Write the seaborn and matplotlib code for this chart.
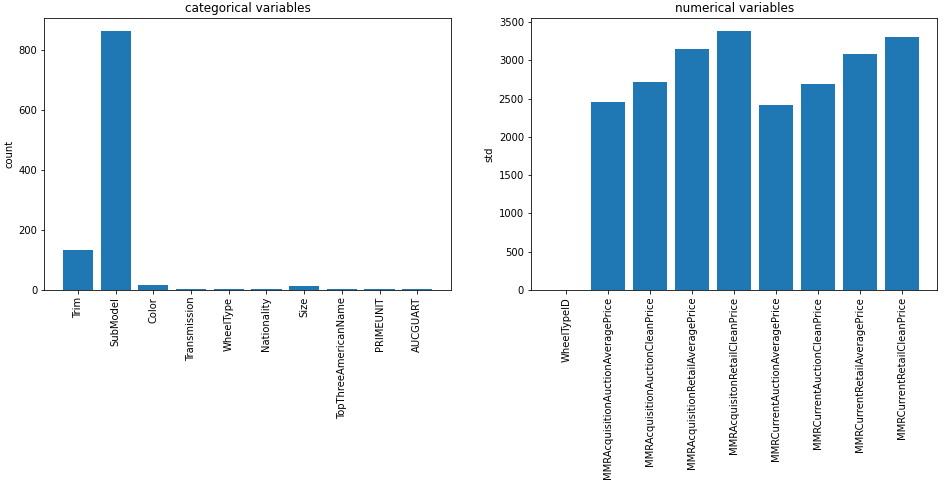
import pandas as pd
import matplotlib
matplotlib.use('Agg')
import matplotlib.pyplot as plt
import seaborn as sns

# categorical variables: number of unique values
cat_names = ['Trim', 'SubModel', 'Color', 'Transmission', 'WheelType', 'Nationality',
             'Size', 'TopThreeAmericanName', 'PRIMEUNIT', 'AUCGUART']
cat_counts = [134, 863, 16, 3, 3, 4, 12, 4, 1, 1]

# numerical variables: standard deviation
num_names = ['WheelTypeID', 'MMRAcquisitionAuctionAveragePrice', 'MMRAcquisitionAuctionCleanPrice',
             'MMRAcquisitionRetailAveragePrice', 'MMRAcquisitonRetailCleanPrice',
             'MMRCurrentAuctionAveragePrice', 'MMRCurrentAuctionCleanPrice',
             'MMRCurrentRetailAveragePrice', 'MMRCurrentRetailCleanPrice']
num_std = [0.5, 2460, 2720, 3155, 3385, 2420, 2685, 3090, 3300]

df_cat = pd.DataFrame({'name': cat_names, 'count': cat_counts})
df_num = pd.DataFrame({'name': num_names, 'std': num_std})

plt.rcParams['font.family'] = ['DejaVu Sans']
fig, axes = plt.subplots(1, 2, figsize=(944 / 72, 487 / 72), dpi=72)
fig.subplots_adjust(left=0.047, right=0.993, bottom=0.405, top=0.963, wspace=0.197)

for ax, df, col, title in [(axes[0], df_cat, 'count', 'categorical variables'),
                           (axes[1], df_num, 'std', 'numerical variables')]:
    sns.barplot(data=df, x='name', y=col, color='#1f77b4', saturation=1, width=0.8,
                linewidth=0, ax=ax)
    n = len(df)
    pad = (n - 1 + 0.8) * 0.05
    ax.set_xlim(-0.4 - pad, n - 1 + 0.4 + pad)
    ax.set_xlabel('')
    ax.set_ylabel(col)
    ax.set_title(title)
    ax.tick_params(axis='x', rotation=90)

fig.savefig('out.png', dpi=72)
